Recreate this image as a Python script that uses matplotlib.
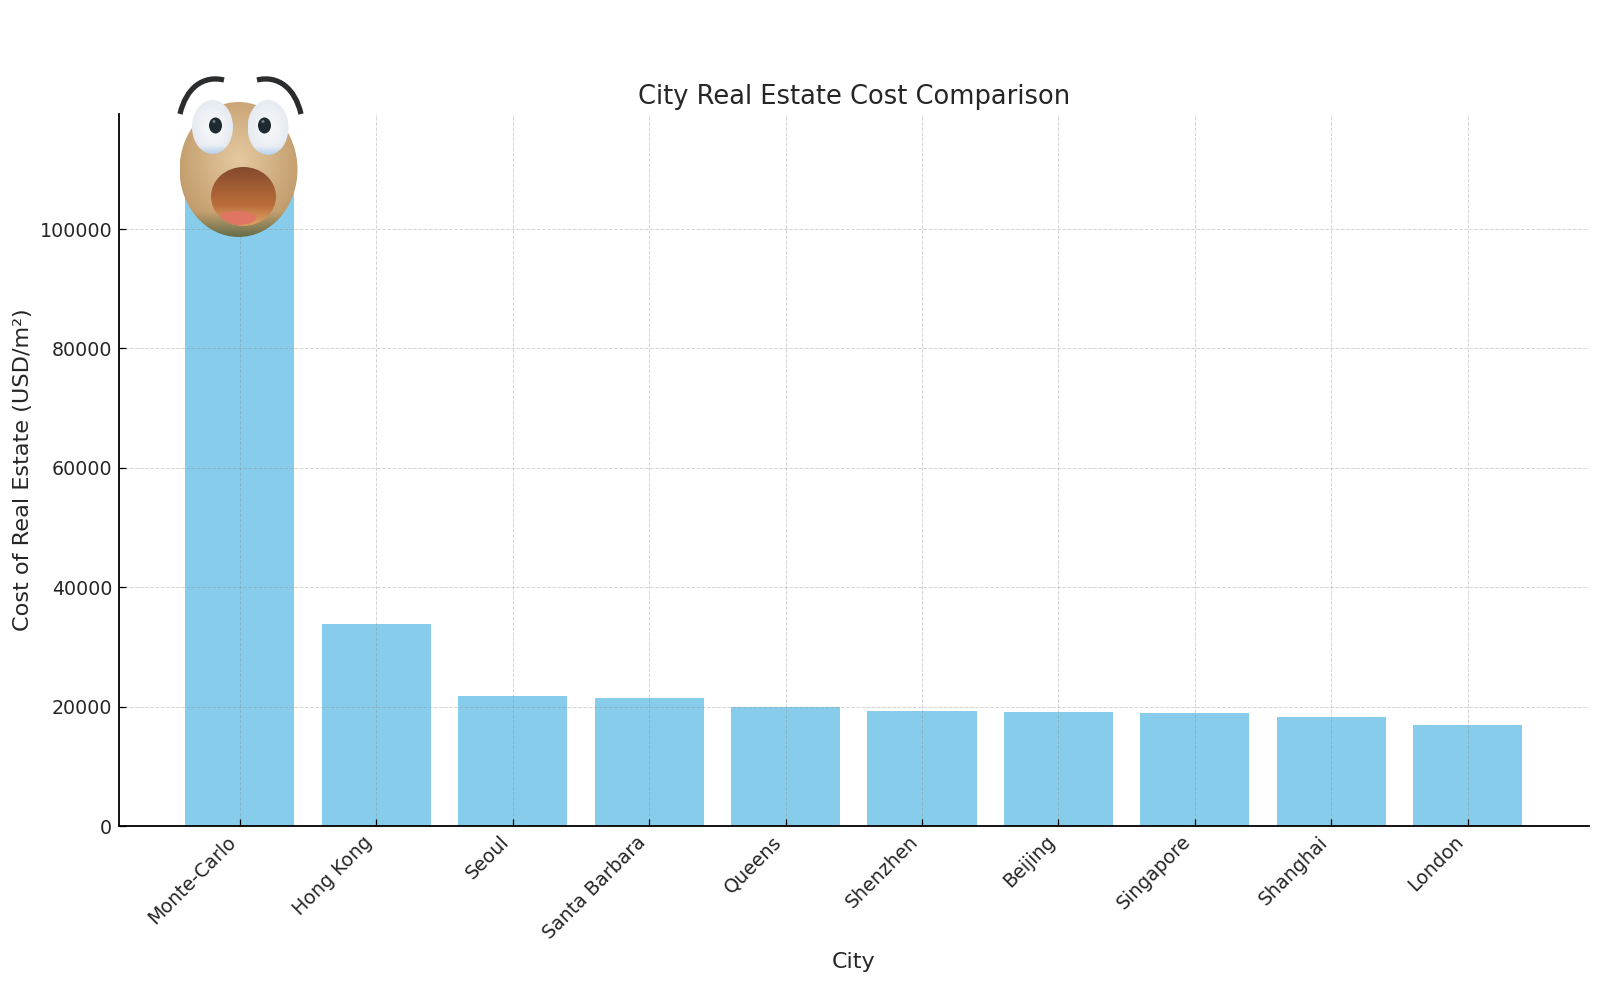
"""
City real estate cost bar chart with a surprised face on the tallest bar
"""
import matplotlib
matplotlib.use('Agg')
import matplotlib.pyplot as plt
from matplotlib.patches import Ellipse, PathPatch
from matplotlib.path import Path
import numpy as np

cities = ['Monte-Carlo', 'Hong Kong', 'Seoul', 'Santa Barbara', 'Queens',
          'Shenzhen', 'Beijing', 'Singapore', 'Shanghai', 'London']
costs = [113600, 33760, 21800, 21450, 19900, 19230, 19060, 18900, 18300, 16840]

TEXT = '#262626'

fig = plt.figure(figsize=(16, 9.83), dpi=100)
ax = fig.add_axes([118.5 / 1600, 1 - 826 / 983, (1589 - 118.5) / 1600, (826 - 114) / 983])

ax.bar(cities, costs, color='#87CDEB', width=0.8)
ax.grid(True, linestyle='--', linewidth=0.7, color='#888888', alpha=0.36)
ax.set_axisbelow(False)
ax.spines['top'].set_visible(False)
ax.spines['right'].set_visible(False)
ax.spines['left'].set_linewidth(1.3)
ax.spines['bottom'].set_linewidth(1.3)
ax.tick_params(axis='both', direction='in', length=5, width=0.9, labelsize=13.7,
               labelcolor=TEXT, pad=4.5)
plt.setp(ax.get_xticklabels(), rotation=45, ha='right')
ax.set_title('City Real Estate Cost Comparison', fontsize=18.5, color=TEXT, pad=7.5)
ax.set_xlabel('City', fontsize=16, color=TEXT, labelpad=7)
ax.set_ylabel('Cost of Real Estate (USD/m²)', fontsize=16.1, color=TEXT, labelpad=5)

# overlay in pixel coordinates for the face
face = fig.add_axes([0, 0, 1, 1], zorder=5)
face.axis('off')
face.patch.set_alpha(0)


def shaded_ellipse(cx, cy, w, h, shader, zorder):
    # draws a shaded raster clipped to an ellipse
    x0, x1 = cx - w / 2, cx + w / 2
    y0, y1 = cy - h / 2, cy + h / 2
    u, v = np.meshgrid(np.linspace(-1, 1, 240), np.linspace(-1, 1, 240))
    img = face.imshow(shader(u, v), extent=(x0, x1, y1, y0), zorder=zorder,
                      interpolation='bilinear', aspect='auto')
    clip = Ellipse((cx, cy), w, h, transform=face.transData, facecolor='none', edgecolor='none')
    face.add_patch(clip)
    img.set_clip_path(clip)


def mix(a, b, t):
    a, b = np.array(a), np.array(b)
    return a + (b - a) * np.clip(t, 0, 1)[..., None]


def head_shader(u, v):
    r = np.sqrt(u ** 2 + (v + 0.15) ** 2)
    rgb = mix((0.90, 0.79, 0.63), (0.76, 0.61, 0.42), r / 1.1)
    return mix(rgb, (0.42, 0.44, 0.30), (v - 0.62) / 0.38 * (0.4 + 0.6 * r))


def mouth_shader(u, v):
    rgb = mix((0.52, 0.29, 0.18), (0.72, 0.42, 0.22), (v + 1) / 1.2)
    return mix(rgb, (0.86, 0.60, 0.38), (v - 0.25) / 0.6)


def eye_shader(u, v):
    r = np.sqrt(u ** 2 + v ** 2)
    rgb = mix((0.98, 0.98, 0.98), (0.90, 0.92, 0.95), r)
    return mix(rgb, (0.72, 0.82, 0.92), (v - 0.68) / 0.32)


shaded_ellipse(238.5, 169.5, 118, 135, head_shader, 2)
shaded_ellipse(243.5, 196.5, 65, 59, mouth_shader, 3)

# tongue, clipped to the mouth
tongue = Ellipse((237, 218), 38, 14, facecolor='#DE7663', edgecolor='none', zorder=4)
face.add_patch(tongue)
tongue.set_clip_path(Ellipse((243.5, 196.5), 65, 59, transform=face.transData))

shaded_ellipse(212.5, 127, 41, 54, eye_shader, 4)
shaded_ellipse(268, 127.5, 41, 55, eye_shader, 4)
for px in (215.5, 264.5):
    face.add_patch(Ellipse((px, 125.5), 13, 16, facecolor='#1E2A30', edgecolor='none', zorder=5))
    face.add_patch(Ellipse((px - 1.5, 121.5), 3, 3, facecolor='#6A7A82', edgecolor='none', zorder=6))

# eyebrows
for pts in ([(180, 114), (186, 88), (203, 75), (224, 80)],
            [(257, 80), (278, 75), (295, 88), (301, 114)]):
    brow = Path(pts, [Path.MOVETO, Path.CURVE4, Path.CURVE4, Path.CURVE4])
    face.add_patch(PathPatch(brow, facecolor='none', edgecolor='#2A2C2E', linewidth=3.8,
                             capstyle='butt', zorder=6))

face.set_xlim(0, 1600)
face.set_ylim(983, 0)

plt.savefig('out.png', dpi=100, facecolor='white')
